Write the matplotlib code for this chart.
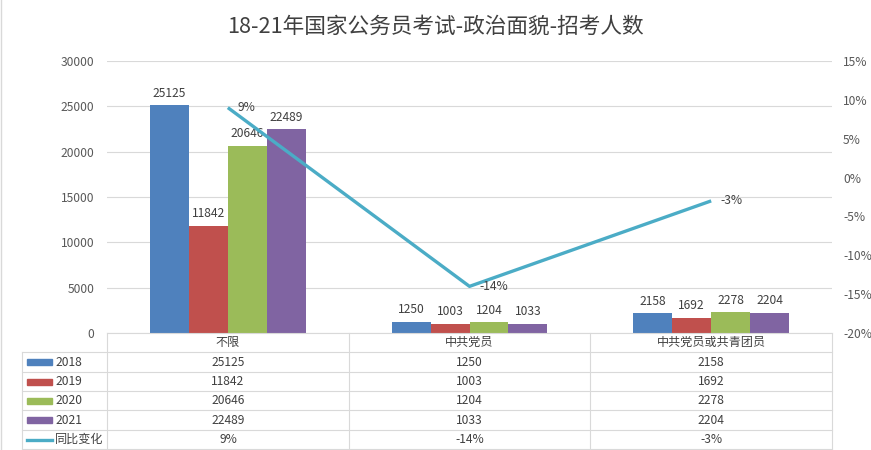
import matplotlib
matplotlib.use('Agg')
import matplotlib.pyplot as plt
import numpy as np
from matplotlib.lines import Line2D
from matplotlib.patches import Rectangle

plt.rcParams['font.family'] = ['Noto Sans CJK SC', 'DejaVu Sans']

# dados
title = '18-21年国家公务员考试-政治面貌-招考人数'
categories = ['不限', '中共党员', '中共党员或共青团员']
years = ['2018', '2019', '2020', '2021']
v2018 = [25125, 1250, 2158]
v2019 = [11842, 1003, 1692]
v2020 = [20646, 1204, 2278]
v2021 = [22489, 1033, 2204]
change_label = '同比变化'
change = [9, -14, -3]

colors = ['#4F81BD', '#C0504D', '#9BBB59', '#8064A2']
line_color = '#4BACC6'
grid_color = '#D9D9D9'
text_color = '#404040'

W, H = 871, 450
fig = plt.figure(figsize=(W / 100, H / 100), dpi=100)


def fx(px):
    return px / W


def fy(py):
    return 1 - py / H


# eixo principal (barras)
ax = fig.add_axes([fx(107), fy(333), fx(832) - fx(107), fy(61) - fy(333)])
x = np.arange(len(categories))
series = [v2018, v2019, v2020, v2021]
bw = 0.645 / 4
for i, (vals, c) in enumerate(zip(series, colors)):
    bars = ax.bar(x + (i - 1.5) * bw, vals, bw, color=c, zorder=2)
    ax.bar_label(bars, padding=4, fontsize=8.7, color=text_color)
ax.set_xlim(-0.5, len(categories) - 0.5)
ax.set_ylim(0, 30000)
ax.set_yticks(range(0, 30001, 5000))
ax.grid(axis='y', color=grid_color, lw=0.8)
ax.set_axisbelow(True)
for s in ['top', 'right', 'left']:
    ax.spines[s].set_visible(False)
ax.spines['bottom'].set_color(grid_color)
ax.set_xticks([])
ax.tick_params(axis='y', length=0, pad=9, labelsize=8.7, labelcolor='#595959')

# eixo secundário (linha)
ax2 = ax.twinx()
ax2.plot(x, change, color=line_color, lw=2.4, zorder=3, solid_capstyle='butt')
ax2.set_ylim(-20, 15)
pct_ticks = list(range(-20, 16, 5))
ax2.set_yticks(pct_ticks)
ax2.set_yticklabels([f'{t}%' for t in pct_ticks])
for s in ax2.spines.values():
    s.set_visible(False)
ax2.tick_params(axis='y', length=0, pad=8, labelsize=8.7, labelcolor='#595959')
for xi, v in zip(x, change):
    ax2.annotate(f'{v}%', (xi, v), xytext=(7, 0), textcoords='offset points',
                 ha='left', va='center', fontsize=8.7, color=text_color)

# tabela de dados
col_edges = [107, 349, 590, 832]
row_edges = [333, 352, 372, 391, 410, 430, 449]
left = 22


def hline(y, x0, x1):
    fig.add_artist(Line2D([fx(x0), fx(x1)], [fy(y), fy(y)], color=grid_color, lw=0.8))


def vline(xp, y0, y1):
    fig.add_artist(Line2D([fx(xp), fx(xp)], [fy(y0), fy(y1)], color=grid_color, lw=0.8))


for ce in col_edges:
    vline(ce, row_edges[0], row_edges[-1])
vline(left, row_edges[1], row_edges[-1])
for re in row_edges[1:]:
    hline(re, left, col_edges[-1])

col_centers = [(a + b) / 2 for a, b in zip(col_edges[:-1], col_edges[1:])]
row_centers = [(a + b) / 2 for a, b in zip(row_edges[:-1], row_edges[1:])]

for cx, cat in zip(col_centers, categories):
    fig.text(fx(cx), fy(row_centers[0]), cat, ha='center', va='center',
             fontsize=8.7, color=text_color)

row_labels = years + [change_label]
row_values = [[str(v) for v in s] for s in series] + [[f'{v}%' for v in change]]
for k, (lab, vals) in enumerate(zip(row_labels, row_values)):
    cy = row_centers[k + 1]
    if k < len(years):
        fig.add_artist(Rectangle((fx(27), fy(cy + 3)), fx(52) - fx(27), fy(cy - 3) - fy(cy + 3),
                                 color=colors[k], transform=fig.transFigure))
    else:
        fig.add_artist(Line2D([fx(27), fx(52)], [fy(cy), fy(cy)], color=line_color, lw=2.4))
    fig.text(fx(55), fy(cy), lab, ha='left', va='center', fontsize=8.7, color=text_color)
    for cx, val in zip(col_centers, vals):
        fig.text(fx(cx), fy(cy), val, ha='center', va='center', fontsize=8.7, color=text_color)

# título e borda
fig.text(0.5, fy(27), title, ha='center', va='center', fontsize=15.6, color=text_color)
fig.add_artist(Line2D([fx(1), fx(1)], [0, 1], color=grid_color, lw=1))

fig.savefig('out.png', dpi=100)
plt.close(fig)
